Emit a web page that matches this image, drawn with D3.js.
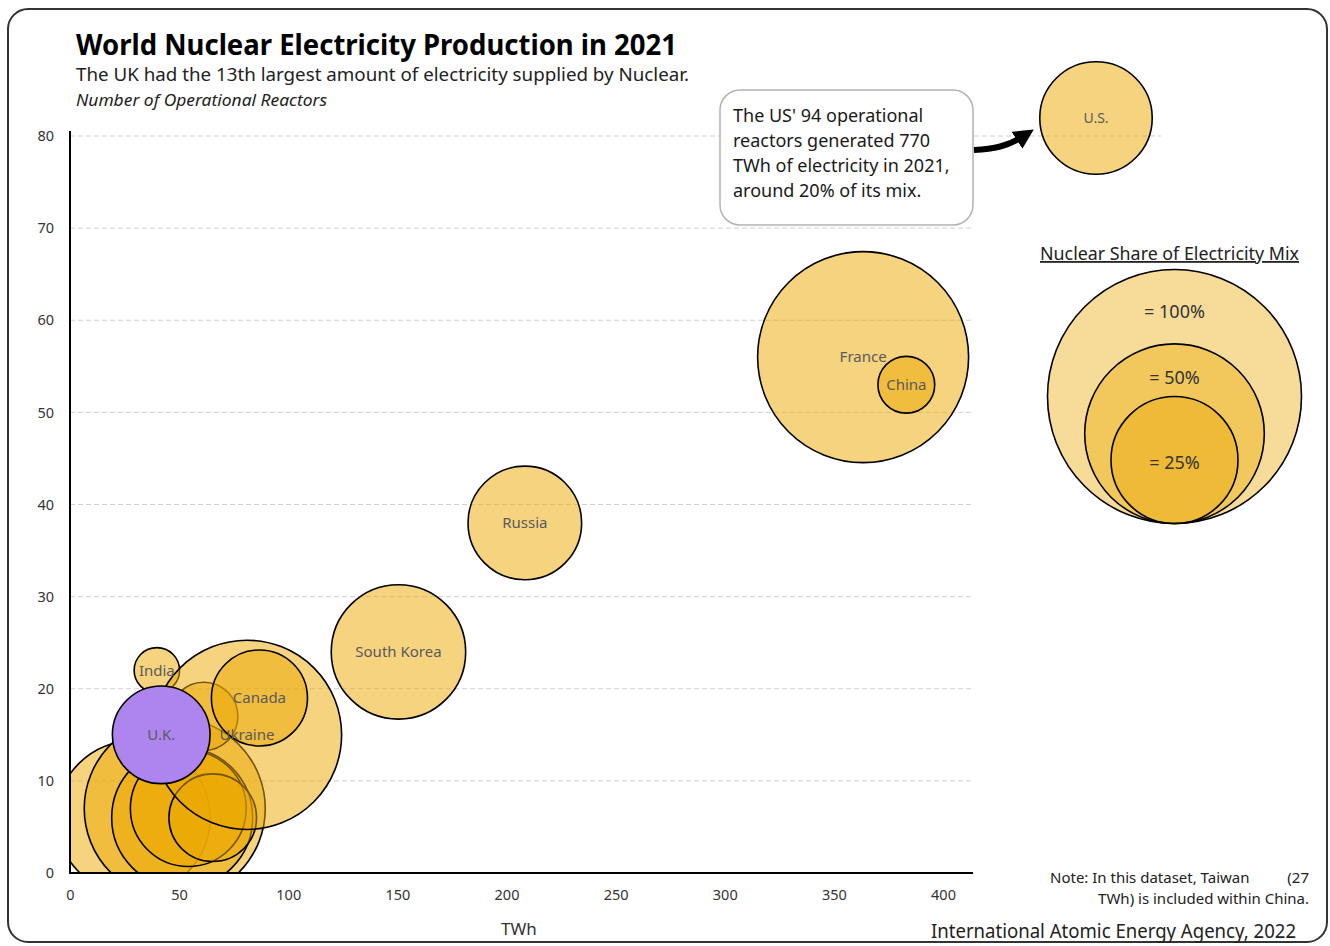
<!DOCTYPE html>
<html><head><meta charset="utf-8">
<script src="https://cdn.jsdelivr.net/npm/d3@7"></script>
<style>
body{margin:0;background:#fff}
svg{display:block}
text{font-family:"Noto Sans","Open Sans",sans-serif}
</style>
</head><body>
<svg id="c" width="1330" height="946"></svg>
<script>
// ---------- data ----------
const countries = ["Czech Republic","India","U.K.","Belgium","Sweden","Spain","Japan","Germany","Ukraine","Canada","South Korea","Russia","France","China"];
const labels    = ["","India","U.K.","","","","","","Ukraine","Canada","South Korea","Russia","France","China"];
const twh       = [29.0,39.8,41.8,48.0,51.4,54.2,61.3,65.4,81.1,86.8,150.5,208.4,363.4,383.2];
const reactors  = [6,22,15,7,6,7,17,6,15,19,24,38,56,53];
const sharePct  = [36.6,3.2,14.8,50.8,30.8,20.8,7.2,11.9,55.5,14.3,28.0,20.0,69.0,5.0];
const highlight = "U.K.";
const usName = "U.S.", usTwh = 771.6, usReactors = 94, usShare = 19.6;
const xTicks = [0,50,100,150,200,250,300,350,400];
const yTicks = [0,10,20,30,40,50,60,70,80];
const legendShares = [100,50,25];
const legendLabels = ["= 100%","= 50%","= 25%"];
const annotLines = ["The US' 94 operational","reactors generated 770","TWh of electricity in 2021,","around 20% of its mix."];

// ---------- setup ----------
const svg = d3.select("#c");
const plot = {left:70, right:973, top:136, bottom:873};
const x = d3.scaleLinear().domain([0,413.75]).range([plot.left, plot.right]);
const y = d3.scaleLinear().domain([0,80]).range([plot.bottom, plot.top]);
const r = d3.scaleSqrt().domain([0,100]).range([0,127]);
const base = "#EBA800";
const labelColor = "#5a5a5a";

// border
svg.append("rect").attr("x",8).attr("y",9).attr("width",1319).attr("height",933)
  .attr("rx",20).attr("fill","#fff").attr("stroke","#333").attr("stroke-width",2);

// titles
svg.append("text").attr("x",76).attr("y",55).attr("font-size",29).attr("font-weight","bold")
  .attr("fill","#000").attr("textLength",601).attr("lengthAdjust","spacingAndGlyphs")
  .text("World Nuclear Electricity Production in 2021");
svg.append("text").attr("x",76).attr("y",81).attr("font-size",18).attr("fill","#222")
  .attr("textLength",613).attr("lengthAdjust","spacingAndGlyphs")
  .text("The UK had the 13th largest amount of electricity supplied by Nuclear.");
svg.append("text").attr("x",76).attr("y",106).attr("font-size",17).attr("font-style","italic").attr("fill","#222")
  .attr("textLength",251).attr("lengthAdjust","spacingAndGlyphs")
  .text("Number of Operational Reactors");

// gridlines
svg.append("g").selectAll("line").data(yTicks.filter(d=>d>0)).join("line")
  .attr("x1",plot.left).attr("x2",d=>d===80?1161:plot.right)
  .attr("y1",d=>y(d)).attr("y2",d=>y(d))
  .attr("stroke","#cfcfcf").attr("stroke-width",1).attr("stroke-dasharray","5,3");

// axes
const yAxis = svg.append("g").attr("transform",`translate(${plot.left},0)`)
  .call(d3.axisLeft(y).tickValues(yTicks).tickSize(0).tickPadding(16));
yAxis.select(".domain").remove();
yAxis.selectAll("text").attr("font-size",14.5).attr("fill","#333").attr("font-family","'Noto Sans','Open Sans',sans-serif");
const xAxis = svg.append("g").attr("transform",`translate(0,${plot.bottom})`)
  .call(d3.axisBottom(x).tickValues(xTicks).tickSize(0).tickPadding(17));
xAxis.select(".domain").remove();
xAxis.selectAll("text").attr("font-size",14.5).attr("fill","#333").attr("font-family","'Noto Sans','Open Sans',sans-serif");

// clip
svg.append("clipPath").attr("id","pc").append("rect")
  .attr("x",plot.left).attr("y",90).attr("width",plot.right-plot.left).attr("height",plot.bottom-90);

const data = countries.map((c,i)=>({name:c,label:labels[i],twh:twh[i],n:reactors[i],share:sharePct[i]}));
const order = data.filter(d=>d.name!==highlight).concat(data.filter(d=>d.name===highlight));

const g = svg.append("g").attr("clip-path","url(#pc)");
g.selectAll("circle").data(order).join("circle")
  .attr("cx",d=>x(d.twh)).attr("cy",d=>y(d.n)).attr("r",d=>r(d.share))
  .attr("fill",d=>d.name===highlight?"#AE85EE":base)
  .attr("fill-opacity",d=>d.name===highlight?1:0.5)
  .attr("stroke","#000").attr("stroke-width",1.6);

// axis lines
svg.append("line").attr("x1",plot.left).attr("x2",plot.left).attr("y1",131).attr("y2",plot.bottom+1)
  .attr("stroke","#000").attr("stroke-width",2);
svg.append("line").attr("x1",plot.left).attr("x2",plot.right).attr("y1",plot.bottom).attr("y2",plot.bottom)
  .attr("stroke","#000").attr("stroke-width",2);

// labels
svg.append("g").selectAll("text").data(order.filter(d=>d.label)).join("text")
  .attr("x",d=>x(d.twh)).attr("y",d=>y(d.n)).attr("dy","0.35em")
  .attr("text-anchor","middle").attr("font-size",15).attr("fill",labelColor)
  .text(d=>d.label);

// US callout bubble
const usC = [1096,118];
svg.append("circle").attr("cx",usC[0]).attr("cy",usC[1]).attr("r",r(usShare))
  .attr("fill",base).attr("fill-opacity",0.5).attr("stroke","#000").attr("stroke-width",1.6);
svg.append("text").attr("x",usC[0]).attr("y",usC[1]).attr("dy","0.35em").attr("text-anchor","middle")
  .attr("font-size",14).attr("fill",labelColor).text(usName);

// annotation box
svg.append("rect").attr("x",720).attr("y",90).attr("width",253).attr("height",135).attr("rx",20)
  .attr("fill","#fff").attr("stroke","#b3b3b3").attr("stroke-width",1.5);
svg.append("g").selectAll("text").data(annotLines).join("text")
  .attr("x",733).attr("y",(d,i)=>122+i*25).attr("font-size",18).attr("fill","#1a1a1a").text(d=>d);

// arrow
const defs = svg.append("defs");
defs.append("marker").attr("id","ah").attr("viewBox","0 0 10 10").attr("refX",3).attr("refY",5)
  .attr("markerWidth",20).attr("markerHeight",20).attr("markerUnits","userSpaceOnUse").attr("orient","auto")
  .append("path").attr("d","M0,0 L10,5 L0,10 z").attr("fill","#000");
svg.append("path").attr("d","M974,150 C994,149 1008,146 1022,137")
  .attr("fill","none").attr("stroke","#000").attr("stroke-width",6).attr("marker-end","url(#ah)");

// legend
const lg = svg.append("g");
const lcx = 1174.5, lbottom = 523.5;
lg.append("text").attr("x",1040).attr("y",260).attr("font-size",18).attr("fill","#222")
  .attr("text-decoration","underline").attr("textLength",259).attr("lengthAdjust","spacingAndGlyphs")
  .text("Nuclear Share of Electricity Mix");
lg.selectAll("circle").data(legendShares).join("circle")
  .attr("cx",lcx).attr("cy",d=>lbottom-r(d)).attr("r",d=>r(d))
  .attr("fill",base).attr("fill-opacity",0.4).attr("stroke","#000").attr("stroke-width",1.6);
const legendLabelY = [312,378,463];
lg.selectAll("text.ll").data(legendLabels).join("text").attr("class","ll")
  .attr("x",lcx).attr("y",(d,i)=>legendLabelY[i]).attr("dy","0.35em").attr("text-anchor","middle")
  .attr("font-size",18).attr("fill","#333").text(d=>d);

// axis title, note, source
svg.append("text").attr("x",519).attr("y",935).attr("text-anchor","middle").attr("font-size",17).attr("fill","#333").text("TWh");
svg.append("text").attr("x",1050).attr("y",883).attr("font-size",15).attr("fill","#222").text("Note: In this dataset, Taiwan");
svg.append("text").attr("x",1309).attr("y",883).attr("text-anchor","end").attr("font-size",15).attr("fill","#222").text("(27");
svg.append("text").attr("x",1309).attr("y",904).attr("text-anchor","end").attr("font-size",15).attr("fill","#222").text("TWh) is included within China.");
svg.append("text").attr("x",1296).attr("y",938).attr("text-anchor","end").attr("font-size",19).attr("fill","#222")
  .attr("textLength",365).attr("lengthAdjust","spacingAndGlyphs")
  .text("International Atomic Energy Agency, 2022");
</script>
</body></html>
